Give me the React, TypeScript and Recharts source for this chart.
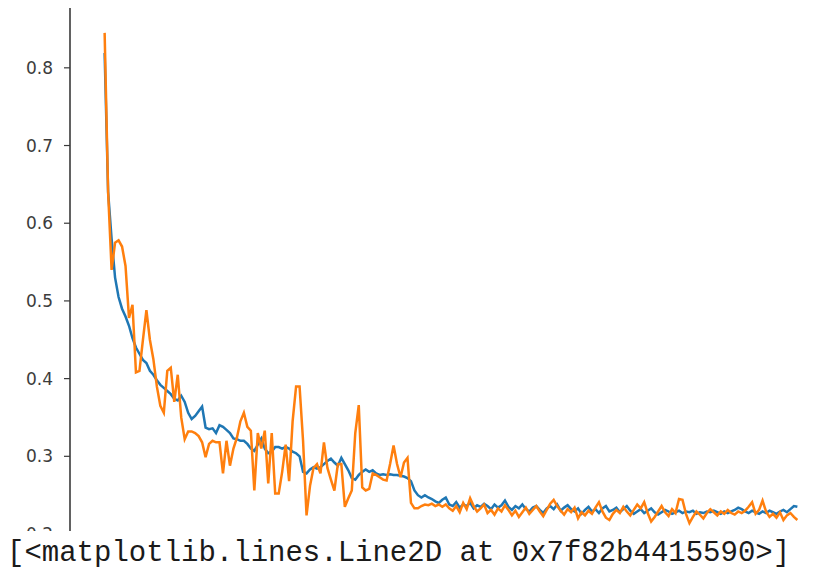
import React from 'react';
import { LineChart, Line, XAxis, YAxis } from 'recharts';

// blue series (C0), one value per step
const trainLoss: number[] = [
  0.819, 0.64, 0.58, 0.53, 0.505, 0.49, 0.48, 0.468, 0.452, 0.44,
  0.432, 0.424, 0.42, 0.41, 0.405, 0.398, 0.392, 0.388, 0.384, 0.38,
  0.374, 0.372, 0.378, 0.37, 0.356, 0.348, 0.352, 0.358, 0.364, 0.337,
  0.335, 0.336, 0.33, 0.34, 0.338, 0.334, 0.33, 0.323, 0.322, 0.32,
  0.32, 0.316, 0.31, 0.307, 0.315, 0.323, 0.31, 0.304, 0.306, 0.312,
  0.312, 0.31, 0.312, 0.31, 0.306, 0.304, 0.3, 0.28, 0.278, 0.283,
  0.286, 0.284, 0.286, 0.29, 0.294, 0.297, 0.292, 0.288, 0.298, 0.29,
  0.282, 0.272, 0.27, 0.276, 0.28, 0.283, 0.28, 0.282, 0.278, 0.276,
  0.277, 0.276, 0.277, 0.276, 0.276, 0.275, 0.274, 0.272, 0.268, 0.256,
  0.25, 0.247, 0.25, 0.247, 0.245, 0.242, 0.24, 0.244, 0.247, 0.238,
  0.236, 0.241, 0.234, 0.238, 0.236, 0.24, 0.233, 0.237, 0.235, 0.239,
  0.236, 0.232, 0.238, 0.234, 0.237, 0.243, 0.235, 0.231, 0.236, 0.233,
  0.238, 0.232, 0.229, 0.234, 0.236, 0.231, 0.227, 0.233, 0.236, 0.232,
  0.238, 0.23, 0.234, 0.237, 0.232, 0.229, 0.233, 0.226, 0.231, 0.235,
  0.229, 0.232, 0.227, 0.233, 0.236, 0.229, 0.231, 0.234, 0.228, 0.232,
  0.236, 0.23, 0.226, 0.229, 0.232, 0.227, 0.23, 0.233, 0.228, 0.225,
  0.228, 0.231, 0.229, 0.226, 0.228, 0.23, 0.227, 0.229, 0.228, 0.23,
  0.226, 0.228, 0.227, 0.229, 0.228, 0.23, 0.228, 0.226, 0.229, 0.227,
  0.229, 0.231, 0.234, 0.232, 0.229, 0.227, 0.23, 0.228, 0.226, 0.229,
  0.227, 0.23, 0.228, 0.226, 0.229, 0.231, 0.228, 0.232, 0.236, 0.235,
];

// orange series (C1)
const valLoss: number[] = [
  0.845, 0.64, 0.54, 0.575, 0.578, 0.57, 0.545, 0.478, 0.495, 0.408,
  0.41, 0.45, 0.488, 0.45, 0.425, 0.39, 0.365, 0.356, 0.41, 0.414,
  0.37, 0.405, 0.35, 0.322, 0.332, 0.332, 0.33, 0.326, 0.318, 0.299,
  0.316, 0.32, 0.318, 0.318, 0.278, 0.32, 0.288, 0.31, 0.324, 0.345,
  0.356, 0.338, 0.333, 0.256, 0.33, 0.31, 0.333, 0.265, 0.33, 0.252,
  0.252, 0.28, 0.315, 0.268, 0.345, 0.39, 0.39, 0.32, 0.224, 0.262,
  0.285, 0.29, 0.278, 0.318, 0.285, 0.27, 0.256, 0.29, 0.29, 0.235,
  0.246, 0.256, 0.33, 0.366, 0.26, 0.256, 0.258, 0.278, 0.276, 0.273,
  0.27, 0.269, 0.29, 0.314, 0.29, 0.273, 0.292, 0.298, 0.24, 0.233,
  0.233, 0.236, 0.238, 0.237, 0.239, 0.236, 0.238, 0.235, 0.238, 0.233,
  0.23, 0.236, 0.228, 0.24, 0.232, 0.246, 0.236, 0.229, 0.233, 0.238,
  0.227, 0.231, 0.225, 0.233, 0.229, 0.237, 0.231, 0.224, 0.23, 0.222,
  0.228, 0.234, 0.226, 0.231, 0.236, 0.229, 0.223, 0.231, 0.239, 0.244,
  0.236, 0.23, 0.225, 0.232, 0.228, 0.234, 0.22, 0.228, 0.224, 0.23,
  0.226, 0.234, 0.241, 0.229, 0.221, 0.218, 0.226, 0.231, 0.227, 0.235,
  0.229, 0.224, 0.231, 0.238, 0.233, 0.241, 0.227, 0.216, 0.222, 0.229,
  0.236, 0.228, 0.223, 0.232, 0.227, 0.245, 0.244, 0.226, 0.214, 0.222,
  0.229, 0.225, 0.22, 0.227, 0.232, 0.228, 0.224, 0.229, 0.226, 0.231,
  0.227, 0.225, 0.229, 0.227, 0.23, 0.235, 0.241, 0.226, 0.231, 0.243,
  0.229, 0.222, 0.226, 0.221, 0.228, 0.218, 0.224, 0.227, 0.222, 0.218,
];

const yTicks = [0.2, 0.3, 0.4, 0.5, 0.6, 0.7, 0.8];
const reprText = '[<matplotlib.lines.Line2D at 0x7f82b4415590>]';

const data = trainLoss.map((v, i) => ({ step: i, train: v, val: valLoss[i] }));

export default function App() {
  return (
    <div style={{ position: 'fixed', left: 0, top: 0, width: 827, height: 572, background: '#fff', overflow: 'hidden' }}>
      <div style={{ position: 'absolute', left: 0, top: 0, width: 827, height: 531, overflow: 'hidden' }}>
        <LineChart width={832} height={548} data={data} margin={{ top: 8, right: 0, bottom: 0, left: 0 }}>
          <XAxis dataKey="step" type="number" domain={[-9.95, 208.95]} hide />
          <XAxis
            xAxisId="top"
            orientation="top"
            dataKey="step"
            type="number"
            domain={[-9.95, 208.95]}
            height={0}
            tick={false}
            tickLine={false}
            axisLine={{ stroke: '#3a3a3a', strokeWidth: 1.6 }}
          />
          <YAxis
            type="number"
            domain={[0.182, 0.877]}
            ticks={yTicks}
            width={70}
            tickSize={6}
            tickMargin={11}
            tickFormatter={(v: number) => v.toFixed(1)}
            tick={{ fill: '#3c3c3c', fontSize: 17, fontFamily: 'DejaVu Sans' }}
            tickLine={{ stroke: '#3a3a3a', strokeWidth: 1.2 }}
            axisLine={{ stroke: '#3a3a3a', strokeWidth: 1.6 }}
            allowDataOverflow
          />
          <Line dataKey="train" type="linear" stroke="#1f77b4" strokeWidth={2.5} dot={false} isAnimationActive={false} />
          <Line dataKey="val" type="linear" stroke="#ff7f0e" strokeWidth={2.5} dot={false} isAnimationActive={false} />
        </LineChart>
      </div>
      <div
        style={{
          position: 'absolute',
          left: 7,
          top: 537,
          fontFamily: '"Liberation Mono", monospace',
          fontSize: 29,
          lineHeight: '34px',
          color: '#1a1a1a',
          whiteSpace: 'pre',
        }}
      >
        {reprText}
      </div>
    </div>
  );
}
